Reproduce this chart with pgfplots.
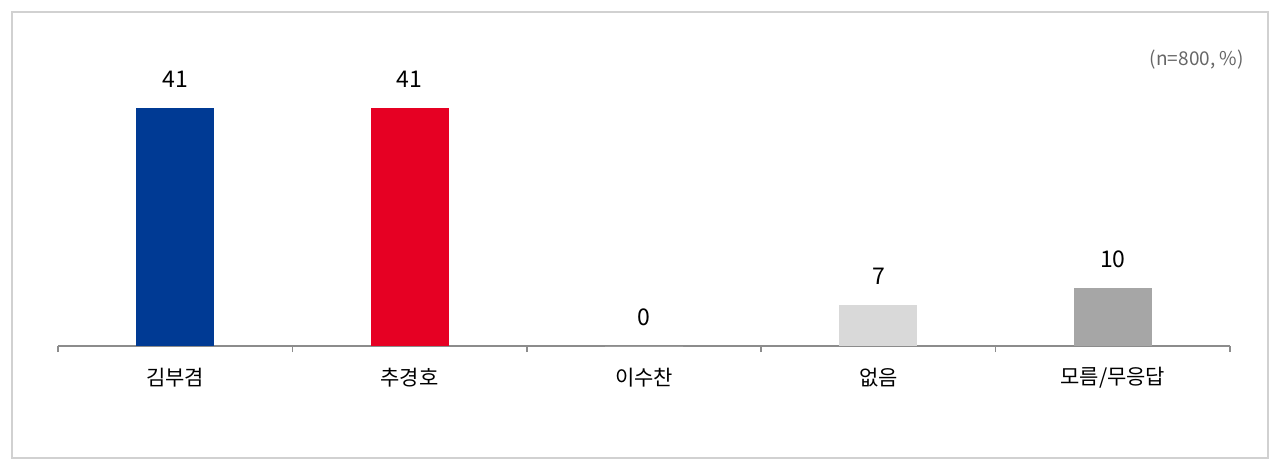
\documentclass[border=0pt]{standalone}
\usepackage{pgfplots}
\pgfplotsset{compat=1.18}
\usepackage{fontspec}
\setmainfont{Noto Sans CJK KR}
\definecolor{cblue}{HTML}{003A94}
\definecolor{cred}{HTML}{E60023}
\definecolor{clgray}{HTML}{D9D9D9}
\definecolor{cgray}{HTML}{A6A6A6}
\definecolor{axisgray}{HTML}{8C8C8C}
\begin{document}
\begin{tikzpicture}
  % page size 1280x468 px at 0.5pt/px
  \path (0pt,0pt) rectangle (640pt,234pt);
  \draw[color=black!18, line width=0.8pt] (6pt,5pt) rectangle (634pt,228pt);
  \node[anchor=east, font=\fontsize{9.5}{11}\selectfont, text=black!60, inner sep=0pt]
    at (622pt,204pt) {(n=800, \%)};
  \begin{axis}[
      at={(29pt,61pt)}, anchor=south west,
      x=117.2pt, y=2.9pt,
      xmin=-0.5, xmax=4.5,
      ymin=0, ymax=45,
      clip=false,
      axis x line*=bottom,
      axis y line=none,
      axis line style={color=axisgray, line width=0.8pt},
      xtick={0,1,2,3,4},
      xticklabels={김부겸,추경호,이수찬,없음,모름/무응답},
      major tick length=0pt,
      minor xtick={-0.5,0.5,1.5,2.5,3.5,4.5},
      minor tick length=3pt,
      tick align=outside,
      minor tick style={color=axisgray, line width=0.8pt},
      xticklabel style={font=\fontsize{10.5}{12}\selectfont, anchor=center, yshift=-16pt},
      /pgf/number format/assume math mode=true,
      ybar, bar width=39pt, bar shift=0pt,
      nodes near coords,
      every node near coord/.append style={font=\fontsize{11.5}{13}\selectfont,
        anchor=center, yshift=14.5pt, text=black},
    ]
    \addplot[fill=cblue, draw=none] coordinates {(0,41)};
    \addplot[fill=cred, draw=none] coordinates {(1,41)};
    \addplot[fill=white, draw=none] coordinates {(2,0)};
    \addplot[fill=clgray, draw=none] coordinates {(3,7)};
    \addplot[fill=cgray, draw=none] coordinates {(4,10)};
  \end{axis}
\end{tikzpicture}
\end{document}
